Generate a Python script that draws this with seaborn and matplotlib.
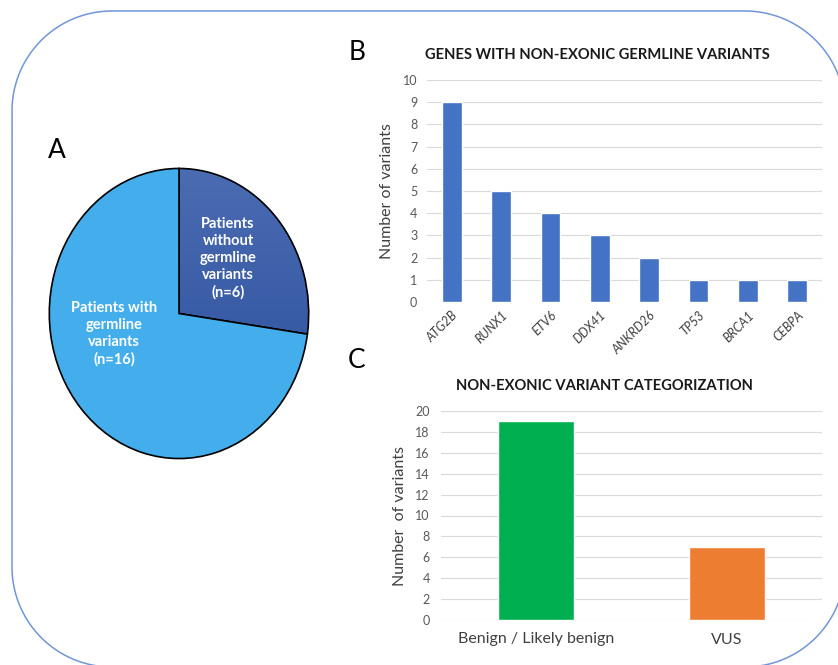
import matplotlib
matplotlib.use("Agg")
import matplotlib.pyplot as plt
import seaborn as sns
import pandas as pd
import numpy as np
from matplotlib.path import Path
from matplotlib.patches import PathPatch
from matplotlib.colors import LinearSegmentedColormap

# ---- data ----
pie_labels = ["Patients\nwithout\ngermline\nvariants\n(n=6)", "Patients with\ngermline\nvariants\n(n=16)"]
pie_values = [6, 16]

genes = ["ATG2B", "RUNX1", "ETV6", "DDX41", "ANKRD26", "TP53", "BRCA1", "CEBPA"]
gene_counts = [9, 5, 4, 3, 2, 1, 1, 1]

categories = ["Benign / Likely benign", "VUS"]
category_counts = [19, 7]

sns.set_theme(style="white")
plt.rcParams["font.family"] = ["Lato", "DejaVu Sans"]

W, H = 838, 665
fig = plt.figure(figsize=(W / 100, H / 100), dpi=100)

def fx(px):
    return px / W

def fy(py):
    return 1 - py / H

# background rounded border (pixel coordinates)
bg = fig.add_axes([0, 0, 1, 1], zorder=-5)
bg.set_xlim(0, W)
bg.set_ylim(H, 0)
bg.axis("off")
x0, x1, y0, y1, r = 12, 845, 11, 667, 100
pts = []
for cx, cy, a0 in [(x1 - r, y0 + r, -90), (x1 - r, y1 - r, 0), (x0 + r, y1 - r, 90), (x0 + r, y0 + r, 180)]:
    t = np.radians(np.linspace(a0, a0 + 90, 40))
    pts += list(zip(cx + r * np.cos(t), cy + r * np.sin(t)))
pts.append(pts[0])
bg.add_patch(PathPatch(Path(pts), fill=False, edgecolor="#7096D8", lw=1.1))

# ---- A: pie ----
axA = fig.add_axes([fx(48), fy(460), fx(310) - fx(48), fy(167) - fy(460)])
wedges, _ = axA.pie(pie_values, colors=["#3156A2", "#44AEEC"], startangle=90,
                    counterclock=False,
                    wedgeprops=dict(edgecolor="black", linewidth=1.2))
axA.set_aspect("auto")
axA.set_xlim(-1.01, 1.01)
axA.set_ylim(-1.01, 1.01)
axA.axis("off")
# gradient fill for the dark slice
wedges[0].set_facecolor("none")
grad_cmap = LinearSegmentedColormap.from_list("g", ["#294D9C", "#4B6CB2"])
grad = np.linspace(0, 1, 256).reshape(-1, 1)
im = axA.imshow(grad, cmap=grad_cmap, extent=(-1, 1, -1, 1), origin="lower",
                aspect="auto", zorder=0.5)
im.set_clip_path(wedges[0])
axA.set_xlim(-1.01, 1.01)
axA.set_ylim(-1.01, 1.01)
fig.text(fx(228), fy(258), pie_labels[0], color="white", fontsize=10.5, fontweight="bold",
         ha="center", va="center", linespacing=1.27)
fig.text(fx(114), fy(334), pie_labels[1], color="white", fontsize=10.5, fontweight="bold",
         ha="center", va="center", linespacing=1.27)

# ---- B: gene bars ----
axB = fig.add_axes([fx(427), fy(302), fx(822) - fx(427), fy(80) - fy(302)])
dfB = pd.DataFrame({"gene": genes, "count": gene_counts})
sns.barplot(data=dfB, x="gene", y="count", color="#4472C4", saturation=1,
            width=0.4, ax=axB)
axB.set_xlim(-0.5, len(genes) - 0.5)
axB.set_ylim(0, 10)
axB.set_yticks(range(0, 11))
axB.yaxis.grid(True, color="#D9D9D9", lw=0.8)
axB.set_axisbelow(True)
for s in axB.spines.values():
    s.set_visible(False)
axB.tick_params(axis="both", length=0)
axB.tick_params(axis="y", labelsize=9, labelcolor="#595959", pad=7)
axB.set_xticks(range(len(genes)))
axB.set_xticklabels(genes, rotation=45, ha="right", rotation_mode="anchor",
                    fontsize=9, fontstyle="italic", color="#404040")
axB.tick_params(axis="x", pad=5)
axB.set_xlabel("")
axB.set_ylabel("Number of variants", fontsize=11.5, color="#404040", labelpad=6)

# ---- C: categorization ----
axC = fig.add_axes([fx(441), fy(620), fx(822) - fx(441), fy(411) - fy(620)])
dfC = pd.DataFrame({"cat": categories, "count": category_counts})
sns.barplot(data=dfC, x="cat", y="count", hue="cat", palette=["#00B050", "#ED7D31"],
            saturation=1, width=0.4, legend=False, ax=axC)
axC.set_xlim(-0.5, 1.5)
axC.set_ylim(0, 20)
axC.set_yticks(range(0, 21, 2))
axC.yaxis.grid(True, color="#D9D9D9", lw=0.8)
axC.set_axisbelow(True)
for s in axC.spines.values():
    s.set_visible(False)
axC.tick_params(axis="both", length=0)
axC.tick_params(axis="y", labelsize=9, labelcolor="#595959", pad=8)
axC.tick_params(axis="x", labelsize=11.5, labelcolor="#404040", pad=9)
axC.set_xlabel("")
axC.set_ylabel("Number  of variants", fontsize=11.5, color="#404040", labelpad=6)

# titles and panel letters
fig.text(fx(597), fy(55), "GENES WITH NON-EXONIC GERMLINE VARIANTS", fontsize=10.6,
         fontweight="bold", ha="center", va="center", color="#1a1a1a")
fig.text(fx(604), fy(386), "NON-EXONIC VARIANT CATEGORIZATION", fontsize=10.6,
         fontweight="bold", ha="center", va="center", color="#1a1a1a")
fig.text(fx(57), fy(150), "A", fontsize=19, ha="center", va="center", color="black")
fig.text(fx(357), fy(53), "B", fontsize=19, ha="center", va="center", color="black")
fig.text(fx(357), fy(361), "C", fontsize=19, ha="center", va="center", color="black")

fig.savefig("out.png", dpi=100)
